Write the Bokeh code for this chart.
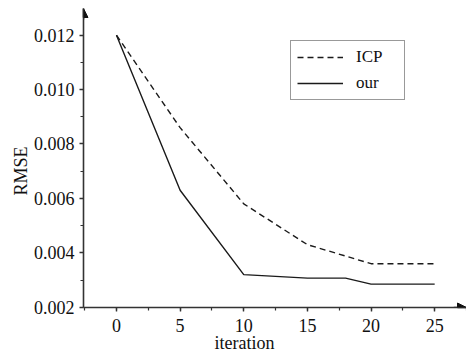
from bokeh.plotting import figure
from bokeh.models import (SingleIntervalTicker, NumeralTickFormatter, Legend, LegendItem,
                          Arrow, NormalHead, Title, Range1d)
from bokeh.embed import file_html
from bokeh.resources import INLINE

# data
iterations_icp = [0, 5, 10, 15, 20, 25]
rmse_icp = [0.0120, 0.0086, 0.0058, 0.0043, 0.0036, 0.0036]
iterations_our = [0, 5, 10, 15, 18, 20, 25]
rmse_our = [0.0120, 0.0063, 0.0032, 0.00307, 0.00307, 0.00285, 0.00285]
series_names = ["ICP", "our"]
x_label = "iteration"
y_label = "RMSE"

FONT = "Liberation Serif"
X0, X1 = -2.59, 27.5
Y0, Y1 = 0.00199, 0.01298

p = figure(width=466, height=355, output_backend="svg", toolbar_location=None,
           x_range=Range1d(X0, X1), y_range=Range1d(Y0, Y1),
           min_border_left=83, min_border_right=0, min_border_top=8, min_border_bottom=48)
p.outline_line_color = None
p.xgrid.visible = False
p.ygrid.visible = False
p.background_fill_color = "white"

r_icp = p.line(iterations_icp, rmse_icp, line_color="#1a1a1a", line_width=1.4, line_dash="6 4")
r_our = p.line(iterations_our, rmse_our, line_color="#1a1a1a", line_width=1.4)

p.axis.major_label_text_font = FONT
p.axis.major_label_text_font_size = "18px"
p.axis.major_label_text_color = "#111111"
p.axis.axis_line_color = "#333333"
p.axis.axis_line_width = 1.6
p.axis.major_tick_line_color = "#333333"
p.axis.minor_tick_line_color = "#333333"
p.axis.major_tick_line_width = 1.4
p.axis.minor_tick_line_width = 1.2
p.axis.major_tick_in = 0
p.axis.major_tick_out = 4
p.axis.minor_tick_in = 0
p.axis.minor_tick_out = 3

p.xaxis[0].ticker = SingleIntervalTicker(interval=5, num_minor_ticks=2)
p.yaxis[0].ticker = SingleIntervalTicker(interval=0.002, num_minor_ticks=2)
p.yaxis[0].formatter = NumeralTickFormatter(format="0.000")
p.xaxis[0].major_label_standoff = 7
p.yaxis[0].major_label_standoff = 5

# axis arrows
p.add_layout(Arrow(end=NormalHead(size=9, fill_color="#111111", fill_alpha=1.0,
                                  line_color="#111111", line_width=1),
                   x_start=X0, y_start=Y1 - 0.0004, x_end=X0, y_end=Y1,
                   line_color="#333333", line_width=1.6))
p.add_layout(Arrow(end=NormalHead(size=9, fill_color="#111111", fill_alpha=1.0,
                                  line_color="#111111", line_width=1),
                   x_start=X1 - 1.0, y_start=Y0, x_end=X1, y_end=Y0,
                   line_color="#333333", line_width=1.6))

# axis labels as titles
p.add_layout(Title(text=x_label, align="left", offset=131, standoff=-8,
                   text_font=FONT, text_font_size="18px", text_font_style="normal",
                   text_color="#111111"), "below")
p.add_layout(Title(text=y_label, align="left", offset=112, standoff=0,
                   text_font=FONT, text_font_size="18px", text_font_style="normal",
                   text_color="#111111"), "left")

legend = Legend(items=[LegendItem(label=series_names[0], renderers=[r_icp]),
                       LegendItem(label=series_names[1], renderers=[r_our])],
                location=(207, 207), padding=6, spacing=6, margin=0,
                glyph_width=46, glyph_height=18, label_height=18, label_width=42,
                label_standoff=13, label_text_font=FONT, label_text_font_size="17px",
                label_text_color="#111111",
                border_line_color="#333333", border_line_width=1.6,
                background_fill_alpha=1.0)
p.add_layout(legend, "center")

open("out.html", "w").write(file_html(p, INLINE))
